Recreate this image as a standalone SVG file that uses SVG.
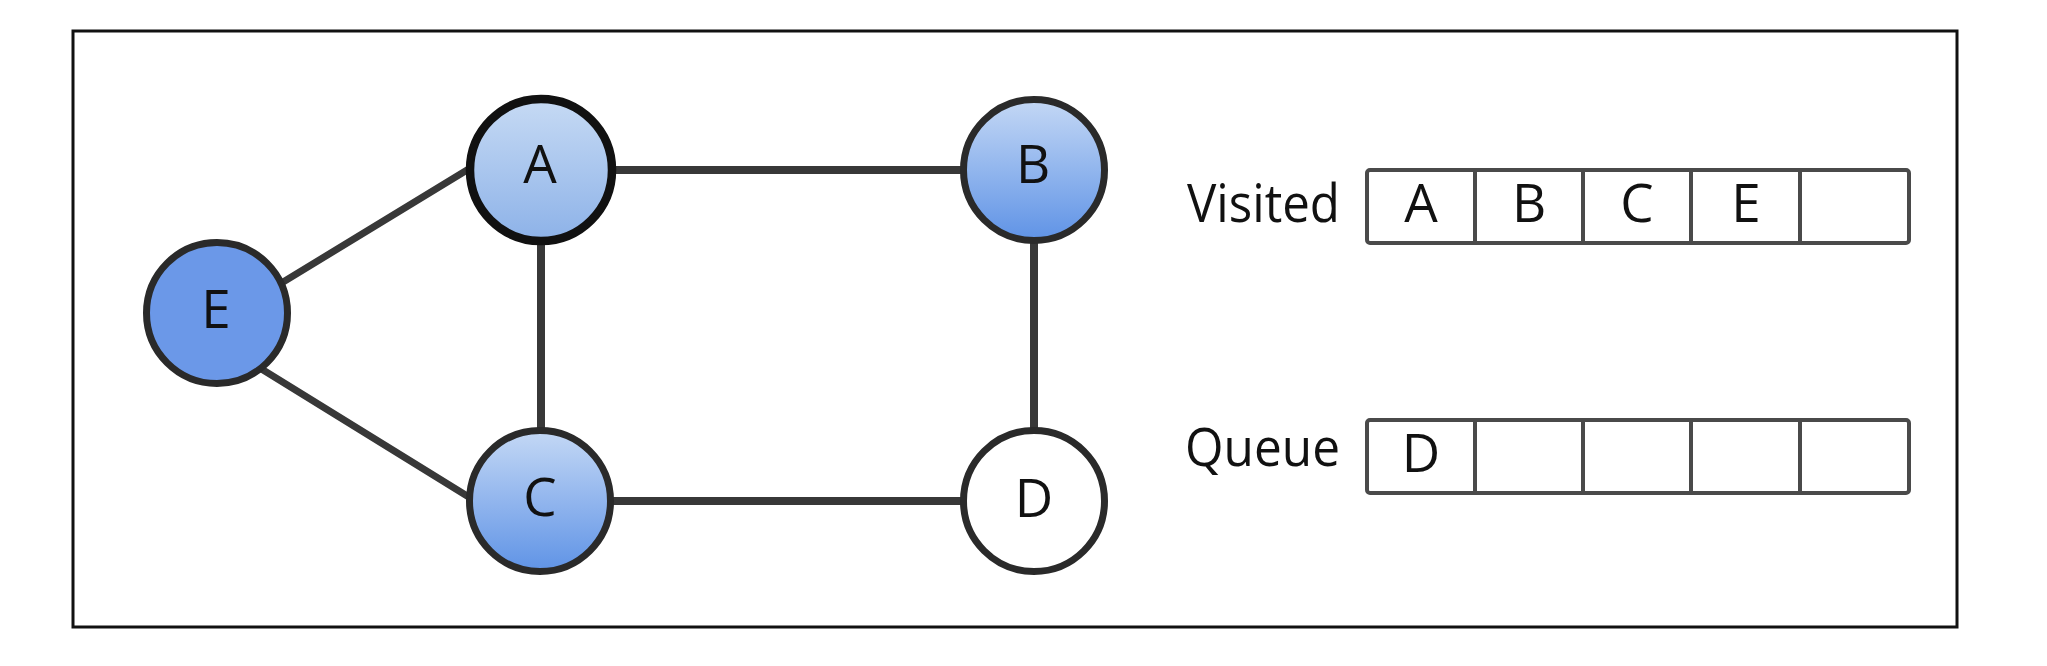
<svg xmlns="http://www.w3.org/2000/svg" width="2047" height="666" viewBox="0 0 2047 666">
<style>
.edge{stroke:#383838;stroke-width:8;stroke-linecap:round;fill:none}
.node{stroke:#2a2a2a;stroke-width:7}
.lbl{font-family:"Open Sans","Noto Sans",sans-serif;font-size:53px;fill:#111;text-anchor:middle}
.cell{fill:#fff;stroke:#4a4a4a;stroke-width:4}
.side{font-family:"Open Sans","Noto Sans",sans-serif;font-size:53px;fill:#111}
</style>
<defs>
<linearGradient id="gA" x1="0" y1="0" x2="0" y2="1">
<stop offset="0" stop-color="#c6daf4"/>
<stop offset="1" stop-color="#8db2e8"/>
</linearGradient>
<linearGradient id="gB" x1="0" y1="0" x2="0" y2="1">
<stop offset="0" stop-color="#c4d8f5"/>
<stop offset="1" stop-color="#5f93e6"/>
</linearGradient>
</defs>
<rect width="2047" height="666" fill="#fff"/>
<rect x="73" y="31" width="1884" height="596" fill="none" stroke="#111" stroke-width="3"/>
<g id="connectors">
<line class="edge" x1="541" y1="170" x2="1034" y2="170"/>
<line class="edge" x1="541" y1="170" x2="541" y2="501"/>
<line class="edge" x1="1034" y1="170" x2="1034" y2="501"/>
<line class="edge" x1="541" y1="501" x2="1034" y2="501"/>
<line class="edge" x1="270" y1="290" x2="472" y2="167" style="stroke-width:7"/>
<line class="edge" x1="255" y1="365" x2="472" y2="499" style="stroke-width:7"/>
</g>
<g id="node-A">
<circle class="node" cx="541" cy="170" r="71" fill="url(#gA)" style="stroke:#111;stroke-width:8.5"/>
<text class="lbl" x="540" y="183">A</text>
</g>
<g id="node-B">
<circle class="node" cx="1034" cy="170" r="70.5" fill="url(#gB)"/>
<text class="lbl" x="1033" y="183">B</text>
</g>
<g id="node-C">
<circle class="node" cx="540" cy="501" r="70.5" fill="url(#gB)"/>
<text class="lbl" x="540" y="516">C</text>
</g>
<g id="node-D">
<circle class="node" cx="1034" cy="501" r="70.5" fill="#fff"/>
<text class="lbl" x="1034" y="517">D</text>
</g>
<g id="node-E">
<circle class="node" cx="217" cy="313" r="70.5" fill="#6b98e8"/>
<text class="lbl" x="216" y="328">E</text>
</g>
<g id="visited">
<text class="side" x="1187" y="222" textLength="153" lengthAdjust="spacingAndGlyphs">Visited</text>
<rect class="cell" x="1367" y="170" width="542" height="73" rx="3"/>
<line class="cell" x1="1475" y1="170" x2="1475" y2="243"/>
<line class="cell" x1="1583" y1="170" x2="1583" y2="243"/>
<line class="cell" x1="1691" y1="170" x2="1691" y2="243"/>
<line class="cell" x1="1800" y1="170" x2="1800" y2="243"/>
<text class="lbl" x="1421" y="222">A</text>
<text class="lbl" x="1529" y="222">B</text>
<text class="lbl" x="1637" y="222">C</text>
<text class="lbl" x="1746" y="222">E</text>
</g>
<g id="queue">
<text class="side" x="1185" y="466" textLength="155" lengthAdjust="spacingAndGlyphs">Queue</text>
<rect class="cell" x="1367" y="420" width="542" height="73" rx="3"/>
<line class="cell" x1="1475" y1="420" x2="1475" y2="493"/>
<line class="cell" x1="1583" y1="420" x2="1583" y2="493"/>
<line class="cell" x1="1691" y1="420" x2="1691" y2="493"/>
<line class="cell" x1="1800" y1="420" x2="1800" y2="493"/>
<text class="lbl" x="1421" y="472">D</text>
</g>
</svg>
